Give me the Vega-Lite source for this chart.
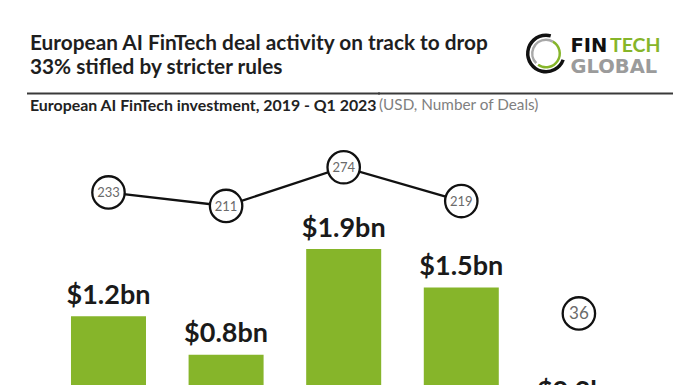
{
  "$schema": "https://vega.github.io/schema/vega-lite/v6.json",
  "padding": {"left": 27, "top": 32.5, "right": 23, "bottom": 0},
  "background": "white",
  "bounds": "full",
  "spacing": 14,
  "config": {
    "view": {"stroke": null},
    "font": "Lato",
    "title": {"font": "Lato", "orient": "bottom", "anchor": "start", "frame": "group"}
  },
  "datasets": {
    "deals": [
      {"period": "2019", "invest": 1.2, "deals": 233, "label": "$1.2bn"},
      {"period": "2020", "invest": 0.8, "deals": 211, "label": "$0.8bn"},
      {"period": "2021", "invest": 1.9, "deals": 274, "label": "$1.9bn"},
      {"period": "2022", "invest": 1.5, "deals": 219, "label": "$1.5bn"},
      {"period": "Q1 2023", "invest": 0.2, "deals": 36, "label": "$0.2bn"}
    ],
    "ringOuter": [
      {"part": "black", "deg": 15, "idx": 1},
      {"part": "gap", "deg": 95, "idx": 2},
      {"part": "black", "deg": 250, "idx": 3}
    ],
    "ringInner": [
      {"part": "gray", "deg": 30, "idx": 1},
      {"part": "green", "deg": 185, "idx": 2},
      {"part": "gap", "deg": 10, "idx": 3},
      {"part": "gray", "deg": 135, "idx": 4}
    ],
    "empty": []
  },
  "vconcat": [
    {
      "bounds": "flush",
      "spacing": 0,
      "hconcat": [
        {
          "width": 498,
          "height": 0.01,
          "data": {"name": "empty"},
          "mark": "point",
          "title": {
            "text": ["European AI FinTech deal activity on track to drop", "33% stifled by stricter rules"],
            "offset": 0,
            "dx": 2,
            "fontSize": 20.8,
            "fontWeight": "bold",
            "lineHeight": 24.4,
            "color": "#1e1e1e"
          }
        },
        {
          "width": 40,
          "height": 40,
          "layer": [
            {
              "data": {"name": "ringOuter"},
              "mark": {"type": "arc", "radius": 20, "radius2": 16.5},
              "encoding": {
                "theta": {"field": "deg", "type": "quantitative", "stack": true, "scale": {"domain": [0, 360]}},
                "order": {"field": "idx", "type": "quantitative"},
                "color": {"field": "part", "type": "nominal", "legend": null,
                  "scale": {"domain": ["black", "gap", "green", "gray"], "range": ["#111111", "transparent", "#86b52a", "#a8a8a8"]}}
              }
            },
            {
              "data": {"name": "ringInner"},
              "mark": {"type": "arc", "radius": 15, "radius2": 12.5},
              "encoding": {
                "theta": {"field": "deg", "type": "quantitative", "stack": true, "scale": {"domain": [0, 360]}},
                "order": {"field": "idx", "type": "quantitative"},
                "color": {"field": "part", "type": "nominal", "legend": null,
                  "scale": {"domain": ["black", "gap", "green", "gray"], "range": ["#111111", "transparent", "#86b52a", "#a8a8a8"]}}
              }
            }
          ]
        },
        {
          "width": 43.4,
          "height": 0.01,
          "data": {"name": "empty"},
          "mark": "point",
          "title": {
            "text": "FIN",
            "subtitle": "GLOBAL",
            "offset": 3.1,
            "dx": 4.5,
            "font": "DejaVu Sans",
            "fontSize": 19.5,
            "fontWeight": "bold",
            "color": "#111111",
            "subtitleFont": "DejaVu Sans",
            "subtitleFontSize": 19.5,
            "subtitleFontWeight": "bold",
            "subtitleColor": "#9b9b9b",
            "subtitlePadding": 2.2
          }
        },
        {
          "width": 60,
          "height": 0.01,
          "data": {"name": "empty"},
          "mark": "point",
          "title": {
            "text": "TECH",
            "offset": 3.1,
            "font": "Lato",
            "fontSize": 19.5,
            "fontWeight": "bold",
            "color": "#86b52a"
          }
        }
      ]
    },
    {
      "bounds": "flush",
      "spacing": 0,
      "hconcat": [
        {
          "width": 351,
          "height": 0.01,
          "data": {"name": "empty"},
          "mark": "point",
          "view": {"stroke": "#3a3a3a", "strokeWidth": 2},
          "title": {
            "text": "European AI FinTech investment, 2019 - Q1 2023",
            "offset": 4.6,
            "dx": 2,
            "fontSize": 15.9,
            "fontWeight": "bold",
            "color": "#222222"
          }
        },
        {
          "width": 293,
          "height": 0.01,
          "data": {"name": "empty"},
          "mark": "point",
          "view": {"stroke": "#3a3a3a", "strokeWidth": 2},
          "title": {
            "text": "(USD, Number of Deals)",
            "offset": 4.6,
            "dy": 0.3,
            "fontSize": 15.3,
            "fontWeight": "normal",
            "color": "#808080"
          }
        }
      ]
    },
    {
      "width": 644,
      "height": 257.2,
      "data": {"name": "deals"},
      "encoding": {
        "x": {
          "field": "period",
          "type": "nominal",
          "sort": null,
          "axis": null,
          "scale": {"paddingInner": 0.3622, "paddingOuter": 0.4192, "align": 0.436}
        }
      },
      "layer": [
        {
          "mark": {"type": "bar", "color": "#86b52a", "clip": true},
          "encoding": {
            "y": {"field": "invest", "type": "quantitative", "axis": null, "scale": {"domain": [0.466, 3.145], "zero": false, "nice": false}}
          }
        },
        {
          "mark": {"type": "text", "clip": true, "baseline": "alphabetic", "dy": -12.5, "fontSize": 27, "fontWeight": "bold", "color": "#1a1a1a", "font": "Lato"},
          "encoding": {
            "y": {"field": "invest", "type": "quantitative", "axis": null, "scale": {"domain": [0.466, 3.145], "zero": false, "nice": false}},
            "text": {"field": "label"}
          }
        },
        {
          "transform": [{"filter": "datum.period != 'Q1 2023'"}],
          "mark": {"type": "line", "color": "#111111", "strokeWidth": 2.3},
          "encoding": {
            "y": {"field": "deals", "type": "quantitative", "axis": null, "scale": {"domain": [-83.3, 335.5], "zero": false, "nice": false}}
          }
        },
        {
          "mark": {"type": "point", "shape": "circle", "filled": true, "fill": "white", "stroke": "#111111", "strokeWidth": 2.3, "size": 1050, "opacity": 1},
          "encoding": {
            "y": {"field": "deals", "type": "quantitative", "axis": null, "scale": {"domain": [-83.3, 335.5], "zero": false, "nice": false}}
          }
        },
        {
          "mark": {"type": "text", "baseline": "middle", "dy": 1, "color": "#6a6a6a", "font": "Lato"},
          "encoding": {
            "y": {"field": "deals", "type": "quantitative", "axis": null, "scale": {"domain": [-83.3, 335.5], "zero": false, "nice": false}},
            "text": {"field": "deals", "type": "quantitative"},
            "size": {"condition": {"test": "datum.period == 'Q1 2023'", "value": 17}, "value": 13}
          }
        }
      ],
      "resolve": {"scale": {"y": "independent"}}
    }
  ]
}
